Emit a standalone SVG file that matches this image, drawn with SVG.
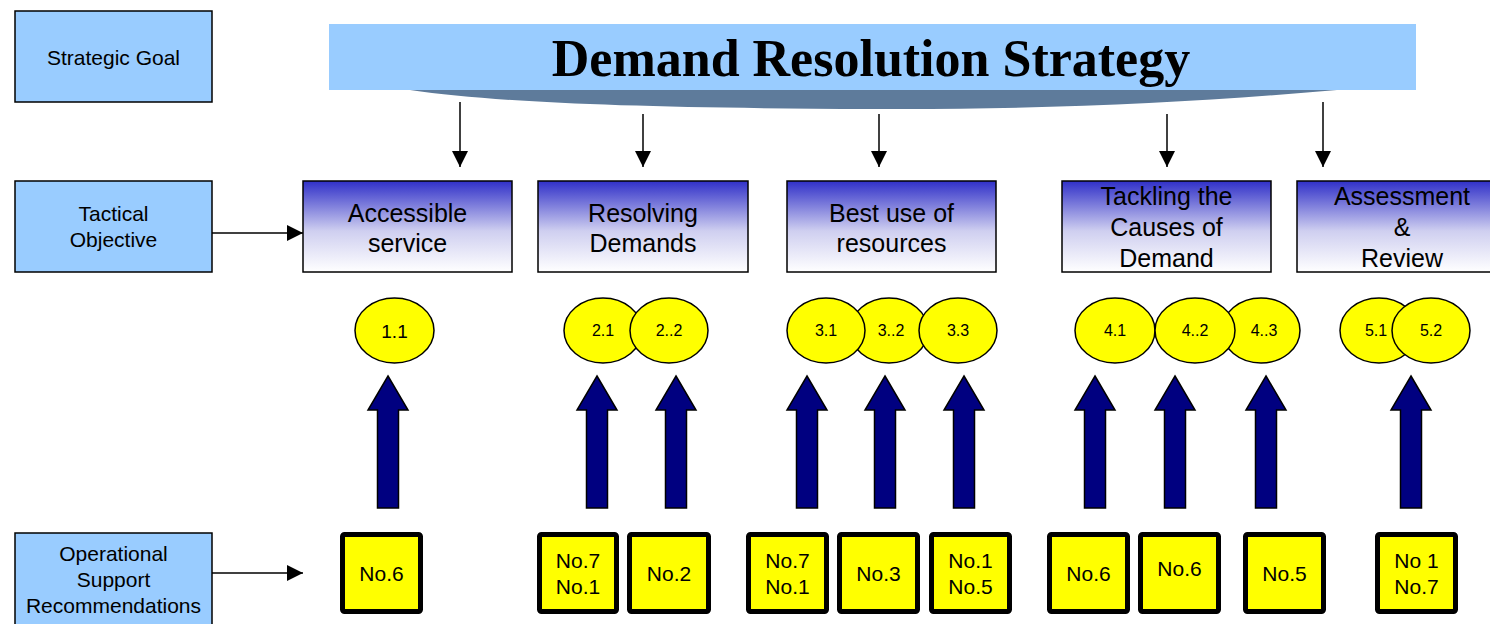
<svg xmlns="http://www.w3.org/2000/svg" width="1490" height="624" viewBox="0 0 1490 624">
<style>
.lbl{fill:#99ccff;stroke:#000;stroke-width:1.5}
.lt{font-family:"Liberation Sans",Arial,sans-serif;font-size:21px;fill:#000;text-anchor:middle}
.tac{fill:url(#tg);stroke:#000;stroke-width:1.5}
.tt{font-family:"Liberation Sans",Arial,sans-serif;font-size:25px;fill:#000;text-anchor:middle}
.el{fill:#ffff00;stroke:#000;stroke-width:1.5}
.et{font-family:"Liberation Sans",Arial,sans-serif;font-size:16px;fill:#000;text-anchor:middle}
.et.big{font-size:19px}
.op{fill:#ffff00;stroke:#000;stroke-width:5}
.ot{font-family:"Liberation Sans",Arial,sans-serif;font-size:21px;fill:#000;text-anchor:middle}
.ba{fill:#000080;stroke:#000;stroke-width:1.5;stroke-linejoin:miter}
.ln{stroke:#000;stroke-width:1.5;fill:none;marker-end:url(#ah)}
</style>
<defs>
<linearGradient id="tg" x1="0" y1="0" x2="0" y2="1">
<stop offset="0" stop-color="#3030c8"/>
<stop offset="0.55" stop-color="#cfcff0"/>
<stop offset="1" stop-color="#ffffff"/>
</linearGradient>
<marker id="ah" markerUnits="userSpaceOnUse" markerWidth="17" markerHeight="17" refX="16" refY="8" orient="auto">
<path d="M0,0 L16,8 L0,16 Z" fill="#000"/>
</marker>
<path id="blk" d="M0,0 L20,34 L10.5,34 L10.5,132 L-10.5,132 L-10.5,34 L-20,34 Z"/>
</defs>

<g id="banner">
<path d="M410,90 C500,103 640,108 870,109 C1050,110 1200,102 1337,90 Z" fill="#5e7b9b"/>
<rect x="329" y="24" width="1087" height="66" fill="#99ccff"/>
<text x="871" y="76" font-family="'Liberation Serif','Times New Roman',serif" font-size="52" font-weight="bold" text-anchor="middle" fill="#000">Demand Resolution Strategy</text>
</g>

<g id="strategic-goal">
<rect class="lbl" x="15" y="11" width="197" height="91"/>
<text class="lt" x="113.5" y="65">Strategic Goal</text>
</g>
<g id="tactical-objective">
<rect class="lbl" x="15" y="181" width="197" height="91"/>
<text class="lt" x="113.5" y="221">Tactical</text>
<text class="lt" x="113.5" y="247">Objective</text>
</g>
<g id="operational-support">
<rect class="lbl" x="15" y="533" width="197" height="100"/>
<text class="lt" x="113.5" y="561">Operational</text>
<text class="lt" x="113.5" y="587">Support</text>
<text class="lt" x="113.5" y="613">Recommendations</text>
</g>

<g id="obj-accessible">
<rect class="tac" x="303" y="181" width="209" height="91"/>
<text class="tt" x="407.5" y="222">Accessible</text>
<text class="tt" x="407.5" y="252">service</text>
</g>
<g id="obj-resolving">
<rect class="tac" x="538" y="181" width="210" height="91"/>
<text class="tt" x="643" y="222">Resolving</text>
<text class="tt" x="643" y="252">Demands</text>
</g>
<g id="obj-best-use">
<rect class="tac" x="787" y="181" width="209" height="91"/>
<text class="tt" x="891.5" y="222">Best use of</text>
<text class="tt" x="891.5" y="252">resources</text>
</g>
<g id="obj-tackling">
<rect class="tac" x="1062" y="181" width="209" height="91"/>
<text class="tt" x="1166.5" y="205">Tackling the</text>
<text class="tt" x="1166.5" y="236">Causes of</text>
<text class="tt" x="1166.5" y="267">Demand</text>
</g>
<g id="obj-assessment">
<rect class="tac" x="1297" y="181" width="210" height="91"/>
<text class="tt" x="1402" y="205">Assessment</text>
<text class="tt" x="1402" y="236">&amp;</text>
<text class="tt" x="1402" y="267">Review</text>
</g>

<g id="ellipses-1">
<ellipse class="el" cx="394.5" cy="330.5" rx="39.5" ry="32.5"/>
<text class="et big" x="394.5" y="338">1.1</text>
</g>
<g id="ellipses-2">
<ellipse class="el" cx="603" cy="330.5" rx="39" ry="32.5"/>
<text class="et" x="603" y="336">2.1</text>
<ellipse class="el" cx="669" cy="330.5" rx="39" ry="32.5"/>
<text class="et" x="669" y="336">2..2</text>
</g>
<g id="ellipses-3">
<ellipse class="el" cx="889" cy="330.5" rx="39" ry="32.5"/>
<text class="et" x="891" y="336">3..2</text>
<ellipse class="el" cx="826" cy="330.5" rx="39" ry="32.5"/>
<text class="et" x="826" y="336">3.1</text>
<ellipse class="el" cx="958" cy="330.5" rx="39" ry="32.5"/>
<text class="et" x="958" y="336">3.3</text>
</g>
<g id="ellipses-4">
<ellipse class="el" cx="1261" cy="330.5" rx="39" ry="32.5"/>
<text class="et" x="1264" y="336">4..3</text>
<ellipse class="el" cx="1115" cy="330.5" rx="40" ry="32.5"/>
<text class="et" x="1115" y="336">4.1</text>
<ellipse class="el" cx="1195" cy="330.5" rx="40" ry="32.5"/>
<text class="et" x="1195" y="336">4..2</text>
</g>
<g id="ellipses-5">
<ellipse class="el" cx="1379" cy="330.5" rx="39" ry="32.5"/>
<text class="et" x="1376" y="336">5.1</text>
<ellipse class="el" cx="1431" cy="330.5" rx="39" ry="32.5"/>
<text class="et" x="1431" y="336">5.2</text>
</g>

<g id="rec-boxes">
<g id="rec-1"><rect class="op" x="342.5" y="534.5" width="78" height="77" rx="2"/><text class="ot" x="381.5" y="581">No.6</text></g>
<g id="rec-2"><rect class="op" x="539.5" y="534.5" width="77" height="77" rx="2"/><text class="ot" x="578" y="568">No.7</text><text class="ot" x="578" y="594">No.1</text></g>
<g id="rec-3"><rect class="op" x="629.5" y="534.5" width="79" height="77" rx="2"/><text class="ot" x="669" y="581">No.2</text></g>
<g id="rec-4"><rect class="op" x="748.5" y="534.5" width="78" height="77" rx="2"/><text class="ot" x="787.5" y="568">No.7</text><text class="ot" x="787.5" y="594">No.1</text></g>
<g id="rec-5"><rect class="op" x="839.5" y="534.5" width="78" height="77" rx="2"/><text class="ot" x="878.5" y="581">No.3</text></g>
<g id="rec-6"><rect class="op" x="931.5" y="534.5" width="78" height="77" rx="2"/><text class="ot" x="970.5" y="568">No.1</text><text class="ot" x="970.5" y="594">No.5</text></g>
<g id="rec-7"><rect class="op" x="1049.5" y="534.5" width="78" height="77" rx="2"/><text class="ot" x="1088.5" y="581">No.6</text></g>
<g id="rec-8"><rect class="op" x="1140.5" y="534.5" width="78" height="77" rx="2"/><text class="ot" x="1179.5" y="576">No.6</text></g>
<g id="rec-9"><rect class="op" x="1245.5" y="534.5" width="78" height="77" rx="2"/><text class="ot" x="1284.5" y="581">No.5</text></g>
<g id="rec-10"><rect class="op" x="1377.5" y="534.5" width="78" height="77" rx="2"/><text class="ot" x="1416.5" y="568">No 1</text><text class="ot" x="1416.5" y="594">No.7</text></g>
</g>

<g id="connectors">
<line class="ln" x1="460" y1="102" x2="460" y2="167"/>
<line class="ln" x1="643" y1="114" x2="643" y2="167"/>
<line class="ln" x1="879" y1="114" x2="879" y2="167"/>
<line class="ln" x1="1167" y1="114" x2="1167" y2="167"/>
<line class="ln" x1="1323" y1="102" x2="1323" y2="167"/>
<line class="ln" x1="212" y1="233" x2="303" y2="233"/>
<line class="ln" x1="212" y1="573" x2="303" y2="573"/>
<use href="#blk" class="ba" x="388" y="376"/>
<use href="#blk" class="ba" x="597" y="376"/>
<use href="#blk" class="ba" x="676" y="376"/>
<use href="#blk" class="ba" x="807" y="376"/>
<use href="#blk" class="ba" x="885" y="376"/>
<use href="#blk" class="ba" x="964" y="376"/>
<use href="#blk" class="ba" x="1095" y="376"/>
<use href="#blk" class="ba" x="1175" y="376"/>
<use href="#blk" class="ba" x="1266" y="376"/>
<use href="#blk" class="ba" x="1411" y="376"/>
</g>
</svg>
